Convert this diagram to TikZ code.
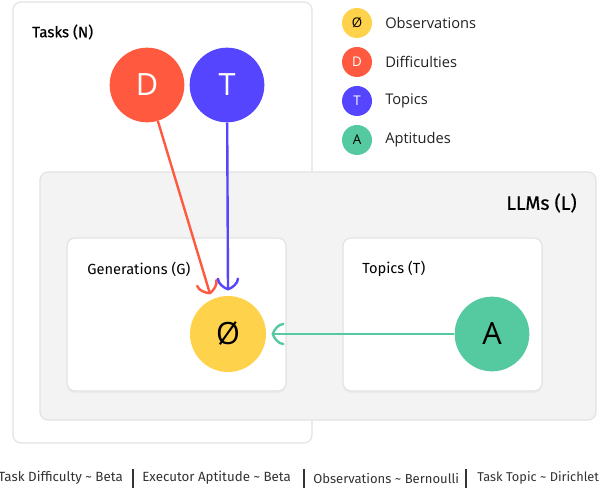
\documentclass[tikz,border=0pt]{standalone}
\usepackage{fontspec}
\setmainfont{Open Sans}
\newfontfamily\labelfont{Fira Sans}
\newfontfamily\labelfontmed[FakeBold=0.6]{Fira Sans}
\usetikzlibrary{arrows.meta}

\definecolor{diffred}{HTML}{FF5A40}
\definecolor{topicblue}{HTML}{5545FF}
\definecolor{obsyellow}{HTML}{FFD24C}
\definecolor{aptgreen}{HTML}{55C9A0}
\definecolor{plategray}{HTML}{F3F3F3}
\definecolor{plateline}{HTML}{E4E2E4}
\definecolor{inktext}{HTML}{222222}
\definecolor{foottext}{HTML}{333333}

% open arrow tip with curved wings that run back parallel to the shaft
\pgfdeclarearrow{
  name = Wing,
  parameters = {\the\pgfarrowlength,\the\pgfarrowwidth},
  defaults = {length=8pt, width=14pt},
  setup code = {
    \pgfarrowssettipend{0pt}
    \pgfarrowssetlineend{-0.5\pgflinewidth}
    \pgfarrowssetbackend{-\pgfarrowlength}
    \pgfarrowshullpoint{0pt}{0pt}
    \pgfarrowsupperhullpoint{-\pgfarrowlength}{0.5\pgfarrowwidth}
    \pgfarrowssavethe\pgfarrowlength
    \pgfarrowssavethe\pgfarrowwidth
  },
  drawing code = {
    \pgfsetdash{}{0pt}
    \pgfsetroundcap
    \pgfsetroundjoin
    \pgfpathmoveto{\pgfpoint{-\pgfarrowlength}{0.5\pgfarrowwidth}}
    \pgfpathcurveto{\pgfpoint{-0.55\pgfarrowlength}{0.5\pgfarrowwidth}}{\pgfpoint{-0.15\pgfarrowlength}{0.22\pgfarrowwidth}}{\pgfpointorigin}
    \pgfpathcurveto{\pgfpoint{-0.15\pgfarrowlength}{-0.22\pgfarrowwidth}}{\pgfpoint{-0.55\pgfarrowlength}{-0.5\pgfarrowwidth}}{\pgfpoint{-\pgfarrowlength}{-0.5\pgfarrowwidth}}
    \pgfusepathqstroke
  }
}

\tikzset{
  plate/.style={draw=plateline, line width=0.9pt, rounded corners=6pt},
  var/.style={circle, minimum size=56pt, inner sep=0pt, font=\fontsize{23}{23}\selectfont},
  keyvar/.style={circle, minimum size=22.5pt, inner sep=0pt, font=\fontsize{10}{10}\selectfont},
  keytext/.style={anchor=west, inner sep=0pt, text=inktext, font=\fontsize{11}{13}\selectfont},
  platelabel/.style={inner sep=0pt, font=\labelfont\fontsize{11}{13}\selectfont, text=black},
  footnote/.style={anchor=west, inner sep=0pt, text=foottext, font=\labelfont\fontsize{10}{12}\selectfont},
  edge/.style={line width=1.8pt, -{Wing[length=8pt,width=15pt]}},
}

\begin{document}
\begin{tikzpicture}[x=0.75pt, y=-0.75pt]
\useasboundingbox (0,0) rectangle (602,491);
\fill[white] (0,0) rectangle (602,491);

% plates
\filldraw[plate, fill=white] (13,2) rectangle (312,443);
\filldraw[plate, fill=plategray] (40,172) rectangle (596,420);
\fill[black!8, rounded corners=6pt] (67,240) rectangle (286,393);
\filldraw[plate, fill=white] (67,238) rectangle (286,391);
\fill[black!8, rounded corners=6pt] (343,240) rectangle (542,393);
\filldraw[plate, fill=white] (343,238) rectangle (542,391);

% plate labels
\node[platelabel, anchor=west, font=\labelfontmed\fontsize{11.3}{13}\selectfont] (tasksLabel) at (32,32) {Tasks (N)};
\node[platelabel, anchor=east, font=\labelfontmed\fontsize{14.5}{16}\selectfont] (llmsLabel) at (577,203) {LLMs (L)};
\node[platelabel, anchor=west] (genLabel) at (87,269) {Generations (G)};
\node[platelabel, anchor=west] (topLabel) at (362,269) {Topics (T)};

% variables
\node[var, fill=diffred, text=white] (D) at (147,85) {D};
\node[var, fill=topicblue, text=white] (T) at (227,85) {T};
\node[var, fill=obsyellow, text=black, minimum size=57pt, outer sep=5pt] (O) at (228,334) {Ø};
\node[var, fill=aptgreen, text=black] (A) at (492,334) {A};

% dependencies
\draw[edge, diffred] (D) -- (O.114);
\draw[edge, topicblue] (T) -- (O.north);
\draw[edge, aptgreen] (A) -- (O);

% key
\node[keyvar, fill=obsyellow, text=black] (kO) at (357,23) {Ø};
\node[keyvar, fill=diffred, text=white] (kD) at (357,62) {D};
\node[keyvar, fill=topicblue, text=white] (kT) at (357,101) {T};
\node[keyvar, fill=aptgreen, text=black] (kA) at (357,140) {A};
\node[keytext] (kOt) at (385,23) {Observations};
\node[keytext] (kDt) at (385,62) {Difficulties};
\node[keytext] (kTt) at (385,101) {Topics};
\node[keytext] (kAt) at (385,140) {Aptitudes};

% distributions
\node[footnote] (f1) at (-2,478) {Task Difficulty \textasciitilde{} Beta};
\node[footnote] (f2) at (142,478) {Executor Aptitude \textasciitilde{} Beta};
\node[footnote, font=\labelfont\fontsize{9.8}{12}\selectfont] (f3) at (313,478) {Observations \textasciitilde{} Bernoulli};
\node[footnote, font=\labelfont\fontsize{9.6}{12}\selectfont] (f4) at (477,478) {Task Topic \textasciitilde{} Dirichlet};
\draw[foottext, line width=0.8pt] (133,469) -- (133,488);
\draw[foottext, line width=0.8pt] (304,469) -- (304,488);
\draw[foottext, line width=0.8pt] (466,469) -- (466,488);
\end{tikzpicture}
\end{document}
